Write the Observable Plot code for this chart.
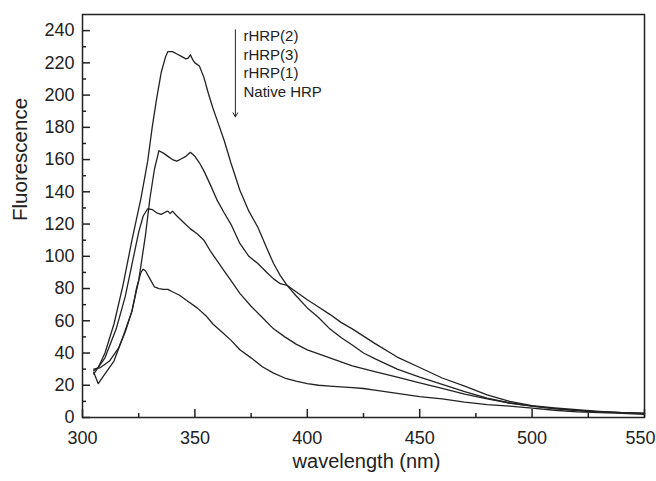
<!DOCTYPE html>
<html><head><meta charset="utf-8">
<script src="https://cdn.jsdelivr.net/npm/d3@7"></script>
<script src="https://cdn.jsdelivr.net/npm/@observablehq/plot@0.6"></script>
<style>body{margin:0;background:#fff}</style>
</head><body><div id="chart"></div>
<script>
// Series: rHRP(2), rHRP(3), rHRP(1), Native HRP
const seriesNames = ["rHRP(2)", "rHRP(3)", "rHRP(1)", "Native HRP"];

const wlA = [305,307,310,314,318,322,326,329,331,333,335,337,338,340,342,344,346,347,348,349,350,352,354,356,358,360,363,366,370,374,378,382,385,388,391,395,400,405,410,415,420,425,430,440,450,460,470,480,490,500,510,520,530,540,550];
const fA  = [29,31,40,58,82,110,136,159,180,198,214,224,227,227,225.5,224,222.5,223,225,222,220,218,211,201,192,184,172,158,141,128,118,105,95.5,88,82,75.5,68,62,55,49.6,45,40,36.5,30,25,20.5,16,12,9,7,5.5,4.3,3.5,3,2.5];

const wlB = [305,307,310,314,318,322,325,328,330,332,334,336,338,340,342,344,346,348,350,352,354,357,360,363,366,370,374,378,382,385,388,391,395,400,405,410,415,420,430,440,450,460,470,480,490,500,510,520,530,540,550];
const fB  = [28,21,27,35,50,66,85,113,136,154,165.5,164,162,160,159,160.5,162,164.5,162,158,153,144,134.5,127,120,108,100,95.5,90,86,83,82,78,73,68.5,64,59,55,46,37.5,31,24.5,19.5,14,10,7.4,6,4.8,3.8,3,2.5];

const wlC = [305,310,315,319,322,325,327,329,331,333,335,337,338,339,340,342,345,348,351,354,357,360,363,366,370,375,380,385,390,395,400,410,420,430,440,450,460,470,480,490,500,510,520,530,540,550];
const fC  = [27,37,55,75,95,115,125,129.5,129,127,126,127.5,128,126.5,128,125,121,117,114,110,103,97,91,85,77,69,62,55,50,45.5,42,37,32,28.5,25,21.5,18,14.5,11.5,9,7,5.5,4.3,3.5,3,2.5];

const wlD = [305,308,312,316,319,322,324,326,327,328,330,332,334,336,338,340,343,347,351,355,358,362,366,370,375,380,385,390,395,400,405,410,415,420,425,430,440,450,460,470,480,490,500,510,520,530,540,550];
const fD  = [30,31,35,43,53,66,80,90,92,91,86,81,80,79.5,79.5,78,76,72,68,63,58,53,48,42,37,31.5,27.5,24.5,22.5,21,20,19.5,19,18.5,18,17,15,13,11.5,9.5,8,7,5.8,4.5,3.5,3,2.5,2];

const xMajor = [300,350,400,450,500];
const xLast = [550];
const xMinor = [325,375,425,475,525];
const yMajor = [0,20,40,60,80,100,120,140,160,180,200,220,240];
const yMinor = [10,30,50,70,90,110,130,150,170,190,210,230];

const legendLabels = ["rHRP(2)", "rHRP(3)", "rHRP(1)", "Native HRP"];
// annotation anchor (data units)
const arrowX = 368, arrowTop = 240.5, arrowBottom = 186.5;
const noteX = 371.6, noteY = 241.5;

const sets = [[wlA, fA], [wlB, fB], [wlC, fC], [wlD, fD]];
const data = sets.flatMap(([w, f], i) => w.map((x, j) => ({series: seriesNames[i], wl: x, f: f[j]})));

const ink = "#222";
const chart = Plot.plot({
  width: 656, height: 481,
  marginLeft: 82, marginRight: 12, marginTop: 14, marginBottom: 64,
  style: {fontFamily: "'Liberation Sans', Arial, sans-serif", background: "#fff", color: ink, overflow: "visible"},
  x: {domain: [300, 550]},
  y: {domain: [0, 250]},
  marks: [
    Plot.line(data, {x: "wl", y: "f", z: "series", stroke: ink, strokeWidth: 1.3}),
    Plot.frame({stroke: ink, strokeWidth: 1.5}),
    Plot.axisX({ticks: xMajor, tickSize: 0, tickPadding: 14, fontSize: 18, tickFormat: d => String(d), label: null}),
    Plot.axisX({ticks: xLast, tickSize: 0, tickPadding: 14, fontSize: 18, dx: -4, tickFormat: d => String(d), label: null}),
    Plot.axisX({ticks: [...xMajor, ...xLast], tickSize: -8, tickFormat: () => "", label: null, strokeWidth: 1.5}),
    Plot.axisX({ticks: xMinor, tickSize: -4, tickFormat: () => "", label: null, strokeWidth: 1.5}),
    Plot.axisY({ticks: yMajor, tickSize: 0, tickPadding: 8, fontSize: 18, tickFormat: d => String(d), label: null}),
    Plot.axisY({ticks: yMajor, tickSize: -8, tickFormat: () => "", label: null, strokeWidth: 1.5}),
    Plot.axisY({ticks: yMinor, tickSize: -4, tickFormat: () => "", label: null, strokeWidth: 1.5}),
    Plot.text(["wavelength (nm)"], {frameAnchor: "bottom", dx: 3, dy: 50, fontSize: 20, fill: ink}),
    Plot.text(["Fluorescence"], {frameAnchor: "left", dx: -62, dy: 5, rotate: -90, fontSize: 20.5, fill: ink}),
    Plot.arrow([0], {x1: () => arrowX, y1: () => arrowTop, x2: () => arrowX, y2: () => arrowBottom, stroke: ink, strokeWidth: 1, headLength: 7}),
    Plot.text([legendLabels.join("\n")], {x: () => noteX, y: () => noteY, textAnchor: "start", lineAnchor: "top", lineHeight: 1.23, fontSize: 15, fill: ink})
  ]
});
document.getElementById("chart").append(chart);
</script>
</body></html>
